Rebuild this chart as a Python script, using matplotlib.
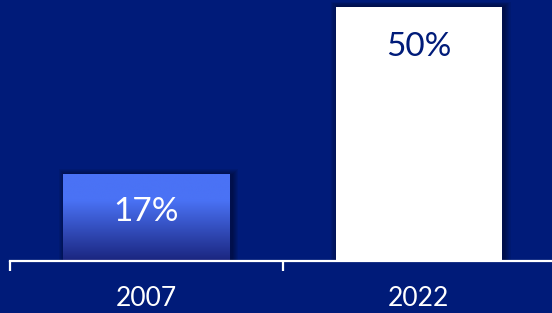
import matplotlib
matplotlib.use("Agg")
import matplotlib.pyplot as plt
import numpy as np
from matplotlib.patches import Rectangle

years = ["2007", "2022"]
shares = [17, 50]
labels = ["17%", "50%"]

bg = "#001B79"
plt.rcParams["font.family"] = ["Lato", "DejaVu Sans"]

fig = plt.figure(figsize=(5.52, 3.13), dpi=100)
fig.patch.set_facecolor(bg)
# axes spans from x=10px to just past the right edge, baseline at y=261px
ax = fig.add_axes([10 / 552, (313 - 261) / 313, 545 / 552, 261 / 313])
ax.set_facecolor(bg)
ax.set_xlim(-0.5, 1.5)
ax.set_ylim(0, 51.4)

x = np.arange(len(years))
width = 0.61

# soft drop shadows
for xi, h in zip(x, shares):
    for k in range(6):
        pad = 0.004 * (k + 1)
        ax.add_patch(Rectangle((xi - width / 2 - pad + 0.008, 0), width + 2 * pad,
                               h + pad * 45, color="black", alpha=0.07, lw=0, zorder=1))

bars = ax.bar(x, shares, width=width, color=["none", "white"], zorder=2)

# gradient fill for the first bar
b = bars[0]
grad = np.linspace(0, 1, 256).reshape(-1, 1)
top = np.array([0x4A, 0x72, 0xF5]) / 255
bot = np.array([0x1A, 0x25, 0x7E]) / 255
t = np.clip((grad - 0.3) / 0.7, 0, 1)
img = top * (1 - t[..., None]) + bot * t[..., None]
img = img.reshape(256, 1, 3)
x0, w = b.get_x(), b.get_width()
ax.imshow(img, extent=(x0, x0 + w, 0, b.get_height()), aspect="auto",
          origin="upper", zorder=2.5)

ax.text(x[0], shares[0] * 0.57, labels[0], ha="center", va="center",
        color="white", fontsize=24, zorder=3)
ax.text(x[1], shares[1] - 7.8, labels[1], ha="center", va="center",
        color=bg, fontsize=24, zorder=3)

for s in ["top", "right", "left"]:
    ax.spines[s].set_visible(False)
ax.spines["bottom"].set_color("white")
ax.spines["bottom"].set_linewidth(1.6)
ax.spines["bottom"].set_zorder(4)
ax.set_yticks([])
ax.set_xticks(x)
ax.set_xticklabels(years, color="white", fontsize=19)
ax.tick_params(axis="x", which="major", length=0, pad=18)
ax.set_xticks([-0.5, 0.5, 1.5], minor=True)
ax.tick_params(axis="x", which="minor", length=7, width=1.6, color="white")

fig.savefig("out.png", dpi=100, facecolor=bg)
